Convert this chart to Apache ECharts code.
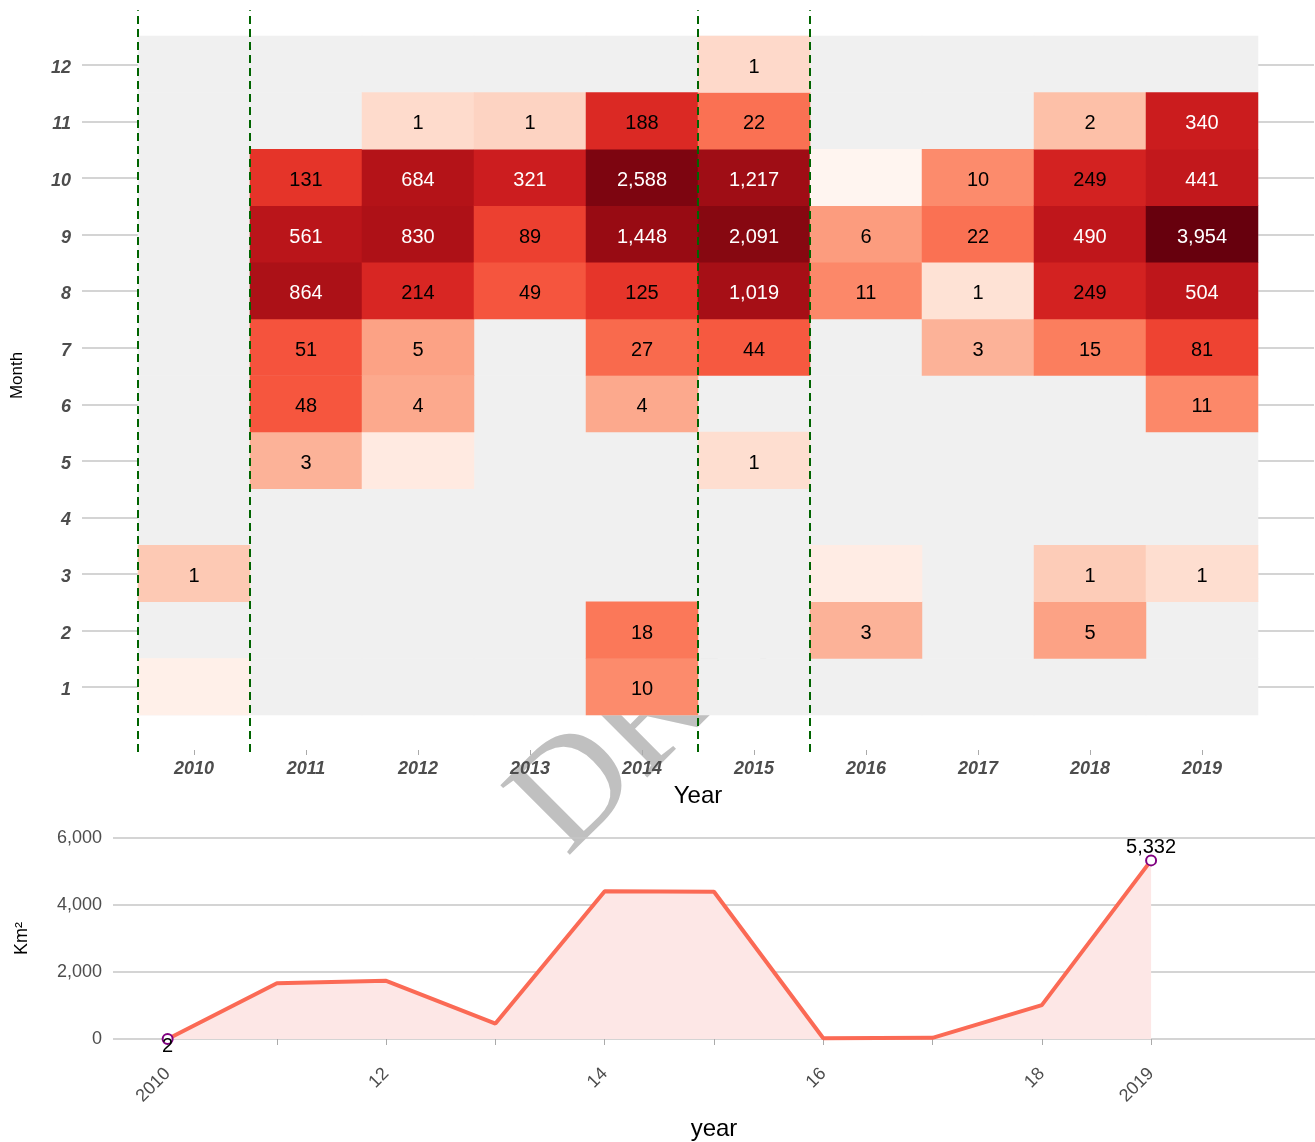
<!DOCTYPE html>
<html>
<head>
<meta charset="utf-8">
<title>Burned area by month</title>
<script src="https://cdn.jsdelivr.net/npm/echarts@6/dist/echarts.min.js"></script>
<style>
  body { margin: 0; background: #fff; }
  #chart { width: 1315px; height: 1142px; }
</style>
</head>
<body>
<div id="chart"></div>
<script>
// categories
const years = ['2010', '2011', '2012', '2013', '2014', '2015', '2016', '2017', '2018', '2019'];
const months = ['1', '2', '3', '4', '5', '6', '7', '8', '9', '10', '11', '12'];

// monthly values Jan..Dec for each year (null = no cell)
const area2010 = [0.27, null, 1.45, null, null, null, null, null, null, null, null, null];
const area2011 = [null, null, null, null, 3, 48, 51, 864, 561, 131, null, null];
const area2012 = [null, null, null, null, 0.36, 4, 5, 214, 830, 684, 0.76, null];
const area2013 = [null, null, null, null, null, null, null, 49, 89, 321, 1.02, null];
const area2014 = [10, 18, null, null, null, 4, 27, 125, 1448, 2588, 188, null];
const area2015 = [null, null, null, null, 0.66, null, 44, 1019, 2091, 1217, 22, 0.8];
const area2016 = [null, 3, 0.33, null, null, null, null, 11, 6, 0.2, null, null];
const area2017 = [null, null, null, null, null, null, 3, 0.55, 22, 10, null, null];
const area2018 = [null, 5, 1.3, null, null, null, 15, 249, 490, 249, 2, null];
const area2019 = [null, null, 0.66, null, null, 11, 81, 504, 3954, 441, 340, null];
const areaByYear = [area2010, area2011, area2012, area2013, area2014,
                    area2015, area2016, area2017, area2018, area2019];

// yearly totals for the line chart
const yearlyTotal = [2, 1662, 1738, 460, 4408, 4396, 21, 36, 1012, 5332];
const lineCategories = years.concat(['2020']);
const lineTickLabels = ['2010', '', '12', '', '14', '', '16', '', '18', '2019', ''];

// dashed separators (between years)
const boundaries = [2009.5, 2010.5, 2014.5, 2015.5];

// colorbrewer Reds, smoothed with a b-spline like d3.interpolateReds
const reds = ['#fff5f0', '#fee0d2', '#fcbba1', '#fc9272', '#fb6a4a',
              '#ef3b2c', '#cb181d', '#a50f15', '#67000d'];

function splineRamp(hexes, steps) {
  const rgb = hexes.map((h) => [1, 3, 5].map((k) => parseInt(h.substr(k, 2), 16)));
  const n = rgb.length - 1;
  const basis = (t1, v0, v1, v2, v3) => {
    const t2 = t1 * t1, t3 = t2 * t1;
    return ((1 - 3 * t1 + 3 * t2 - t3) * v0 + (4 - 6 * t2 + 3 * t3) * v1 +
            (1 + 3 * t1 + 3 * t2 - 3 * t3) * v2 + t3 * v3) / 6;
  };
  let out = [];
  for (let s = 0; s <= steps; s++) {
    let t = s / steps;
    const i = t >= 1 ? n - 1 : Math.floor(t * n);
    const c = [0, 1, 2].map((k) => {
      const v1 = rgb[i][k], v2 = rgb[i + 1][k];
      const v0 = i > 0 ? rgb[i - 1][k] : 2 * v1 - v2;
      const v3 = i < n - 1 ? rgb[i + 2][k] : 2 * v2 - v1;
      return Math.round(Math.max(0, Math.min(255, basis((t - i / n) * n, v0, v1, v2, v3))));
    });
    out.push('rgb(' + c.join(',') + ')');
  }
  return out;
}

const fmt = (v) => v.toLocaleString('en-US');

let cells = [];
areaByYear.forEach((row, i) => {
  row.forEach((v, j) => {
    if (v === null) return;
    cells.push({
      value: [i, j, v, Math.log10(v)],
      label: { color: v > 300 ? '#fff' : '#000' },
    });
  });
});

let panel = [];
years.forEach((y, i) => {
  months.forEach((m, j) => {
    panel.push([i, j, 0]);
  });
});

const sepSeries = boundaries.map((b) => ({
  type: 'line',
  xAxisIndex: 1,
  yAxisIndex: 1,
  data: [[b, -0.15], [b, 12.97]],
  symbol: 'none',
  clip: false,
  silent: true,
  z: 5,
  lineStyle: { color: '#006400', width: 2, type: [8, 5] },
}));

const lastIdx = yearlyTotal.length - 1;
const lineData = yearlyTotal.map((v, i) => {
  if (i === 0) {
    return { value: v, symbol: 'emptyCircle', label: { show: true, position: 'bottom', distance: -8 } };
  }
  if (i === lastIdx) {
    return { value: v, symbol: 'emptyCircle', label: { show: true, position: 'top', distance: -3 } };
  }
  return { value: v, symbol: 'none' };
});

const gridLine = '#c6c6c6';
const font = '"Liberation Sans", Arial, sans-serif';

const chart = echarts.init(document.getElementById('chart'));
chart.setOption({
  animation: false,
  textStyle: { fontFamily: font },
  graphic: [{
    type: 'text',
    x: 539,
    y: 830,
    rotation: Math.PI / 4,
    z: 0,
    silent: true,
    style: {
      text: 'DRAFT',
      font: 'normal 150px "Liberation Serif", "Times New Roman", serif',
      fill: '#c0c0c0',
      align: 'left',
      verticalAlign: 'middle',
    },
  }],
  visualMap: {
    show: false,
    type: 'continuous',
    seriesIndex: 1,
    dimension: 3,
    min: -0.7,
    max: 3.6,
    inRange: { color: splineRamp(reds, 40) },
  },
  grid: [
    { left: 138, width: 1120, top: 36, height: 679 },
    { left: 82, width: 1232, top: 8.5, height: 735 },
    { left: 113, width: 1202, top: 838, height: 202 },
  ],
  xAxis: [
    {
      type: 'category',
      gridIndex: 0,
      data: years,
      offset: 35,
      axisLine: { show: false },
      axisTick: { show: true, alignWithLabel: true, length: 5, lineStyle: { color: '#aaa' } },
      axisLabel: { margin: 10, fontSize: 18, fontWeight: 'bold', fontStyle: 'italic', color: '#4d4d4d' },
      splitLine: { show: false },
      name: 'Year',
      nameLocation: 'middle',
      nameGap: 34,
      nameTextStyle: { fontSize: 24, color: '#000' },
    },
    {
      type: 'value',
      gridIndex: 1,
      min: 2009,
      max: 2020,
      show: false,
    },
    {
      type: 'category',
      gridIndex: 2,
      data: lineCategories,
      offset: 17,
      axisLine: { show: false },
      axisTick: {
        show: true, alignWithLabel: true, length: 6,
        interval: (i) => i < years.length,
        lineStyle: { color: '#aaa' },
      },
      axisLabel: {
        interval: 0, rotate: 45, margin: 15, fontSize: 18, color: '#4d4d4d',
        formatter: (v, i) => lineTickLabels[i],
      },
      name: 'year',
      nameLocation: 'middle',
      nameGap: 61,
      nameTextStyle: { fontSize: 24, color: '#000' },
    },
  ],
  yAxis: [
    {
      type: 'category',
      gridIndex: 0,
      data: months,
      axisLine: { show: false },
      axisTick: { show: false },
      axisLabel: {
        margin: 67,
        formatter: (v) => '{m|' + v + '}',
        rich: {
          m: {
            fontSize: 18, fontWeight: 'bold', fontStyle: 'italic', color: '#4d4d4d',
            padding: [7, 0, 0, 0],
          },
        },
      },
      splitLine: { show: false },
      name: 'Month',
      nameLocation: 'middle',
      nameGap: 112,
      nameTextStyle: { fontSize: 17, color: '#000' },
    },
    {
      type: 'value',
      gridIndex: 1,
      min: 0,
      max: 13,
      interval: 1,
      axisLine: { show: false },
      axisTick: { show: false },
      axisLabel: { show: false },
      splitLine: {
        show: true,
        lineStyle: { width: 1.5, color: ['transparent'].concat(months.map(() => gridLine), ['transparent']) },
      },
    },
    {
      type: 'value',
      gridIndex: 2,
      min: 0,
      max: 6000,
      interval: 2000,
      axisLine: { show: false },
      axisTick: { show: false },
      axisLabel: { margin: 11, fontSize: 18, color: '#4d4d4d', formatter: (v) => fmt(v) },
      splitLine: { show: true, lineStyle: { width: 1.5, color: gridLine } },
      name: 'Km²',
      nameLocation: 'middle',
      nameGap: 82,
      nameTextStyle: { fontSize: 18, color: '#000' },
    },
  ],
  series: [
    {
      type: 'heatmap',
      xAxisIndex: 0,
      yAxisIndex: 0,
      data: panel,
      silent: true,
      z: 1,
      itemStyle: { color: '#f0f0f0' },
      label: { show: false },
    },
    {
      type: 'heatmap',
      xAxisIndex: 0,
      yAxisIndex: 0,
      data: cells,
      z: 2,
      label: {
        show: true,
        fontSize: 20,
        offset: [0, 3],
        formatter: (p) => {
          const r = Math.round(p.value[2]);
          return r === 0 ? '' : fmt(r);
        },
      },
    },
    ...sepSeries,
    {
      type: 'line',
      xAxisIndex: 2,
      yAxisIndex: 2,
      data: lineData,
      symbolSize: 10,
      z: 3,
      lineStyle: { color: '#fb6a55', width: 4 },
      itemStyle: { color: '#800080', borderWidth: 1.5 },
      areaStyle: { color: '#fde7e6', opacity: 1 },
      label: { fontSize: 20, color: '#000', formatter: (p) => fmt(p.value) },
    },
  ],
});
</script>
</body>
</html>
